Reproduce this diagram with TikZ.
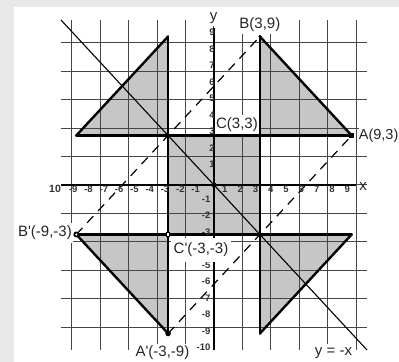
\documentclass[tikz,border=0pt]{standalone}
\usepackage{fontspec}
\setmainfont{Liberation Sans}
\definecolor{shadegray}{RGB}{198,198,198}
\definecolor{bggray}{RGB}{232,232,232}
\definecolor{gridgray}{RGB}{70,70,70}
\begin{document}
\begin{tikzpicture}[x=15.3pt,y=16.5pt,
  gridln/.style={draw=gridgray, line width=1pt},
  shaded/.style={fill=shadegray},
  thickln/.style={line width=2.4pt, line cap=round, line join=round},
  axisln/.style={line width=2pt},
  dashln/.style={line width=1.2pt, dash pattern=on 9pt off 7pt},
  diagln/.style={line width=1.1pt},
  num/.style={font=\bfseries\fontsize{9.5}{10}\selectfont, inner sep=0pt, text=black!80},
  lbl/.style={font=\fontsize{15}{15}\selectfont, text=black!85, fill=white, inner sep=0pt}
]
\useasboundingbox (-13.987,-10.727) rectangle (12.092,11.212);
\fill[bggray] (-13.987,-10.727) rectangle (12.092,11.212);
\fill[white] (-13.072,-10.727) rectangle (12.092,10.788);

% named points
\coordinate (A) at (9,3);
\coordinate (B) at (3,9);
\coordinate (C) at (3,3);
\coordinate (Ap) at (-3,-9);
\coordinate (Bp) at (-9,-3);
\coordinate (Cp) at (-3,-3);
\coordinate (P1) at (-9,3);
\coordinate (P2) at (-3,9);
\coordinate (P3) at (-3,3);
\coordinate (R1) at (9,-3);
\coordinate (R2) at (3,-9);
\coordinate (R3) at (3,-3);
\coordinate (O) at (0,0);
\coordinate (TL) at (-10,10);
\coordinate (BR) at (10,-10);

% shaded regions
\fill[shaded] (P1) -- (P2) -- (P3) -- cycle;
\fill[shaded] (B) -- (A) -- (C) -- cycle;
\fill[shaded] (Cp) rectangle (C);
\fill[shaded] (Bp) -- (Ap) -- (Cp) -- cycle;
\fill[shaded] (R3) -- (R1) -- (R2) -- cycle;

% grid
\draw[gridln] (-10,-10) grid (10,10);

% y = -x
\draw[diagln] (TL) -- (BR);

% dashed lines
\draw[dashln] (Bp) -- (B);
\draw[dashln] (Ap) -- (A);

% thick lines
\draw[thickln] (P1) -- (A);
\draw[thickln] (Bp) -- (R1);
\draw[thickln] (P2) -- (Ap);
\draw[thickln] (B) -- (R2);
\draw[thickln] (P1) -- (P2);
\draw[thickln] (B) -- (A);
\draw[thickln] (Bp) -- (Ap);
\draw[thickln] (R1) -- (R2);

% axes
\coordinate (xs) at (-10,0);
\coordinate (xe) at (9.31,0);
\coordinate (ys) at (0,-10);
\coordinate (ye) at (0,9.5);
\draw[axisln] (xs) -- (xe);
\draw[axisln] (ys) -- (ye);

% axis numbers
\foreach \k in {1,...,9} \node[num] (xp\k) at (\k-0.29,-0.27) {\k};
\foreach \k in {-9,...,-1} \node[num] (xn\k) at (\k-0.2,-0.27) {\k};
\node[num, font=\bfseries\fontsize{10.5}{11}\selectfont] (x10) at (-10.39,-0.24) {10};
\foreach \k in {1,...,9} \node[num, anchor=east] (yp\k) at (0.05,\k+0.25) {\k};
\foreach \k in {-10,...,-5,-3,-2,-1} \node[num, anchor=east] (yn\k) at (-0.22,\k+0.15) {\k};

% points
\fill (A) +(-2.6pt,-2.6pt) rectangle +(2.6pt,2.6pt);
\fill (Ap) circle (2.8pt);
\fill (Bp) circle (3pt);
\fill[white] (Bp) circle (1.2pt);
\fill (O) circle (2.5pt);
\fill (B) circle (1.6pt);
\draw[line width=0.8pt, fill=white] (Cp) +(-1.6pt,-1.6pt) rectangle +(1.6pt,1.6pt);

% labels
\node[lbl, minimum width=17pt, minimum height=14pt] (ly) at (-0.03,10.09) {y};
\node[lbl, minimum width=53pt, minimum height=18pt] (lB) at (3.0,9.72) {B(3,9)};
\node[lbl, minimum width=44pt, minimum height=19pt] (lC) at (1.5,3.66) {C(3,3)};
\node[lbl, minimum width=60pt, minimum height=24pt] (lCp) at (-0.85,-3.91) {C\textquotesingle(-3,-3)};
\node[lbl, minimum width=40pt, minimum height=20pt, font=\fontsize{14.5}{15}\selectfont] (lA) at (10.76,2.97) {A(9,3)};
\node[lbl, minimum width=56pt, minimum height=20pt] (lBp) at (-11.05,-2.91) {B\textquotesingle(-9,-3)};
\node[lbl, minimum width=60pt, minimum height=18pt] (lAp) at (-3.37,-10.18) {A\textquotesingle(-3,-9)};
\node[lbl, minimum width=44pt, minimum height=18pt] (lyx) at (7.81,-10.18) {y = -x};
\node[lbl, fill=none] (lx) at (9.74,-0.12) {x};
\end{tikzpicture}
\end{document}
